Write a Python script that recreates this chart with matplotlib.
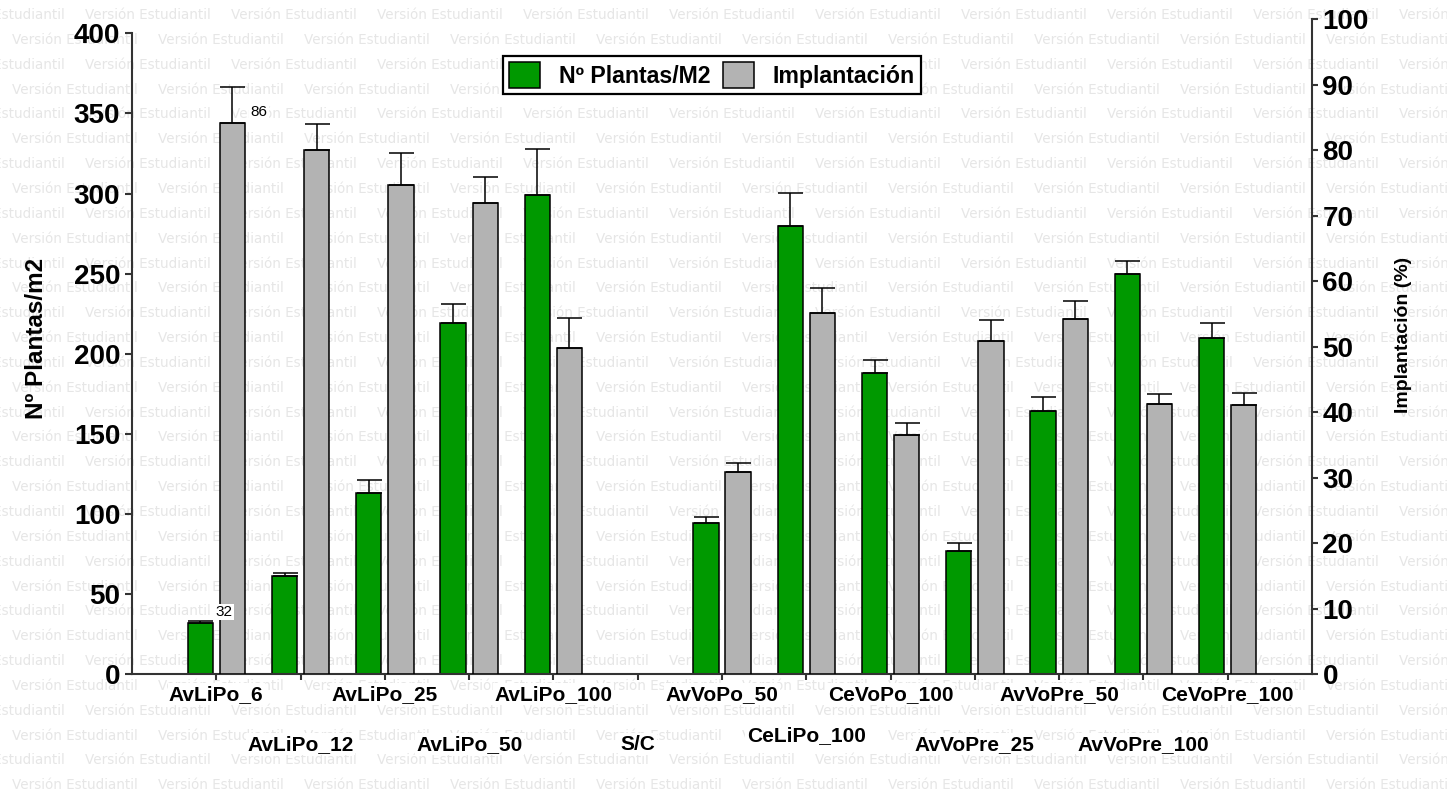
import matplotlib
matplotlib.use("Agg")
import matplotlib.pyplot as plt
import numpy as np

plt.rcParams["font.family"] = ["Liberation Sans", "DejaVu Sans"]

# ---- data -------------------------------------------------------------
categories = ["AvLiPo_6", "AvLiPo_12", "AvLiPo_25", "AvLiPo_50", "AvLiPo_100",
              "S/C", "AvVoPo_50", "CeLiPo_100", "CeVoPo_100", "AvVoPre_25",
              "AvVoPre_50", "AvVoPre_100", "CeVoPre_100"]

# Nº plantas / m2 (left axis) and upper SD
plantas = np.array([32, 61.3, 113.3, 219.0, 299.1, np.nan, 94.2, 279.9,
                    188.1, 76.9, 164.4, 250.0, 209.9])
plantas_err = np.array([1.3, 2.1, 7.9, 12.3, 28.7, np.nan, 4.1, 20.6,
                        7.8, 5.0, 8.6, 7.7, 9.5])

# Implantación % (right axis) and upper SD
implantacion = np.array([86, 81.8, 76.4, 73.6, 50.9, np.nan, 31.5, 56.3,
                         37.4, 52.0, 55.5, 42.2, 42.0])
implantacion_err = np.array([5.6, 4.0, 4.9, 4.0, 4.7, np.nan, 1.5, 4.0,
                             1.8, 3.3, 2.8, 1.5, 1.9])

left_ticks = list(range(0, 401, 50))
right_ticks = list(range(0, 101, 10))

# ---- figure -----------------------------------------------------------
W, H = 1447, 796
fig = plt.figure(figsize=(W / 100, H / 100), dpi=100)
fig.patch.set_facecolor("white")

# student-licence watermark tiled behind everything
for r in range(33):
    yc = 15 + r * 24.85
    x0 = 12 + (73 if r % 2 == 0 else 0) - 146
    for k in range(12):
        fig.text((x0 + k * 146) / W, 1 - yc / H, "Versión Estudiantil",
                 family="DejaVu Sans", fontsize=9.75, color="#E6E6E6",
                 ha="left", va="center", zorder=-5)

GREEN = "#009900"
GREY = "#B3B3B3"
SPINE = "#333333"

x0_px, x1_px = 132, 1312
y0_px = 674.3
L = x0_px / W
Wd = (x1_px - x0_px) / W
B = 1 - y0_px / H

ax = fig.add_axes([L, B, Wd, (y0_px - 33.3) / H])
ax.patch.set_visible(False)
axg = ax.twinx()
axg.patch.set_visible(False)
axr = fig.add_axes([L, B, Wd, (y0_px - 19.3) / H])
axr.patch.set_visible(False)

x = np.arange(len(categories))
off, bw = 0.19, 0.30

bars_p = ax.bar(x - off, plantas, bw, color=GREEN, edgecolor="black",
                linewidth=1.1, zorder=2)
ax.errorbar(x - off, plantas, yerr=[np.zeros_like(plantas_err), plantas_err],
            fmt="none", ecolor="black", elinewidth=1.1, capsize=9,
            capthick=1.1, zorder=3)

bars_i = axg.bar(x + off, implantacion, bw, color=GREY, edgecolor="black",
                 linewidth=1.1, zorder=2)
axg.errorbar(x + off, implantacion,
             yerr=[np.zeros_like(implantacion_err), implantacion_err],
             fmt="none", ecolor="black", elinewidth=1.1, capsize=9,
             capthick=1.1, zorder=3)

# left axis
ax.set_xlim(-1, len(categories))
ax.set_ylim(0, 400)
for s in ("top", "right"):
    ax.spines[s].set_visible(False)
for s in ("left", "bottom"):
    ax.spines[s].set_linewidth(1.5)
    ax.spines[s].set_color(SPINE)
ax.set_yticks(left_ticks, [str(v) for v in left_ticks],
              fontsize=20, fontweight="bold")
ax.tick_params(axis="y", direction="out", length=5, width=1.5,
               color=SPINE, pad=3.5)
ax.set_xticks(x, categories, fontsize=15, fontweight="bold")
ax.tick_params(axis="x", direction="out", length=4.5, width=1.5,
               color=SPINE, pad=3)
label_pads = [3, 39, 3, 39, 3, 39, 3, 33, 3, 39, 3, 39, 3]
for tick, pad in zip(ax.xaxis.get_major_ticks(), label_pads):
    tick.set_pad(pad)
    tick.label1.set_bbox(dict(facecolor="white", edgecolor="none", pad=1))

# twin used only for the grey bars
axg.set_ylim(0, 100)
axg.set_xlim(-1, len(categories))
axg.axis("off")

# right axis
axr.set_xlim(-1, len(categories))
axr.set_ylim(0, 100)
for s in ("top", "left", "bottom"):
    axr.spines[s].set_visible(False)
axr.spines["right"].set_linewidth(1.5)
axr.spines["right"].set_color(SPINE)
axr.set_xticks([])
axr.yaxis.tick_right()
axr.set_yticks(right_ticks, [str(v) for v in right_ticks],
               fontsize=20, fontweight="bold")
axr.tick_params(axis="y", direction="out", length=4.5, width=1.5,
                color=SPINE, pad=3)

# axis titles
fig.text(37 / W, 1 - 338 / H, "Nº Plantas/m2", rotation=90, fontsize=17.5,
         fontweight="bold", ha="center", va="center")
fig.text(1404 / W, 1 - 335 / H, "Implantación (%)", rotation=90, fontsize=14,
         fontweight="bold", ha="center", va="center")

# value labels on the first group
box = dict(facecolor="white", edgecolor="none", pad=1)
axg.annotate(f"{plantas[0]:.0f}", xy=(x[0] - off + bw / 2, plantas[0]),
             xycoords=ax.transData, xytext=(2, 8), textcoords="offset points",
             fontsize=11, ha="left", va="center", bbox=box, zorder=10)
axg.annotate(f"{implantacion[0]:.0f}", xy=(x[0] + off + bw / 2, implantacion[0]),
             xytext=(4, 8), textcoords="offset points",
             fontsize=11, ha="left", va="center", bbox=box, zorder=10)

# legend
leg = axr.legend([bars_p, bars_i], ["Nº Plantas/M2", "Implantación"],
                 loc="upper left", bbox_to_anchor=(503 / W, 1 - 56 / H),
                 bbox_transform=fig.transFigure, ncol=2,
                 prop={"weight": "bold", "size": 16.7},
                 handlelength=1.35, handleheight=1.35, handletextpad=0.8,
                 columnspacing=0.55, borderpad=0.25, borderaxespad=0,
                 fancybox=False, edgecolor="black", framealpha=1)
leg.get_frame().set_linewidth(1.6)

fig.savefig("out.png", dpi=100, facecolor="white")
